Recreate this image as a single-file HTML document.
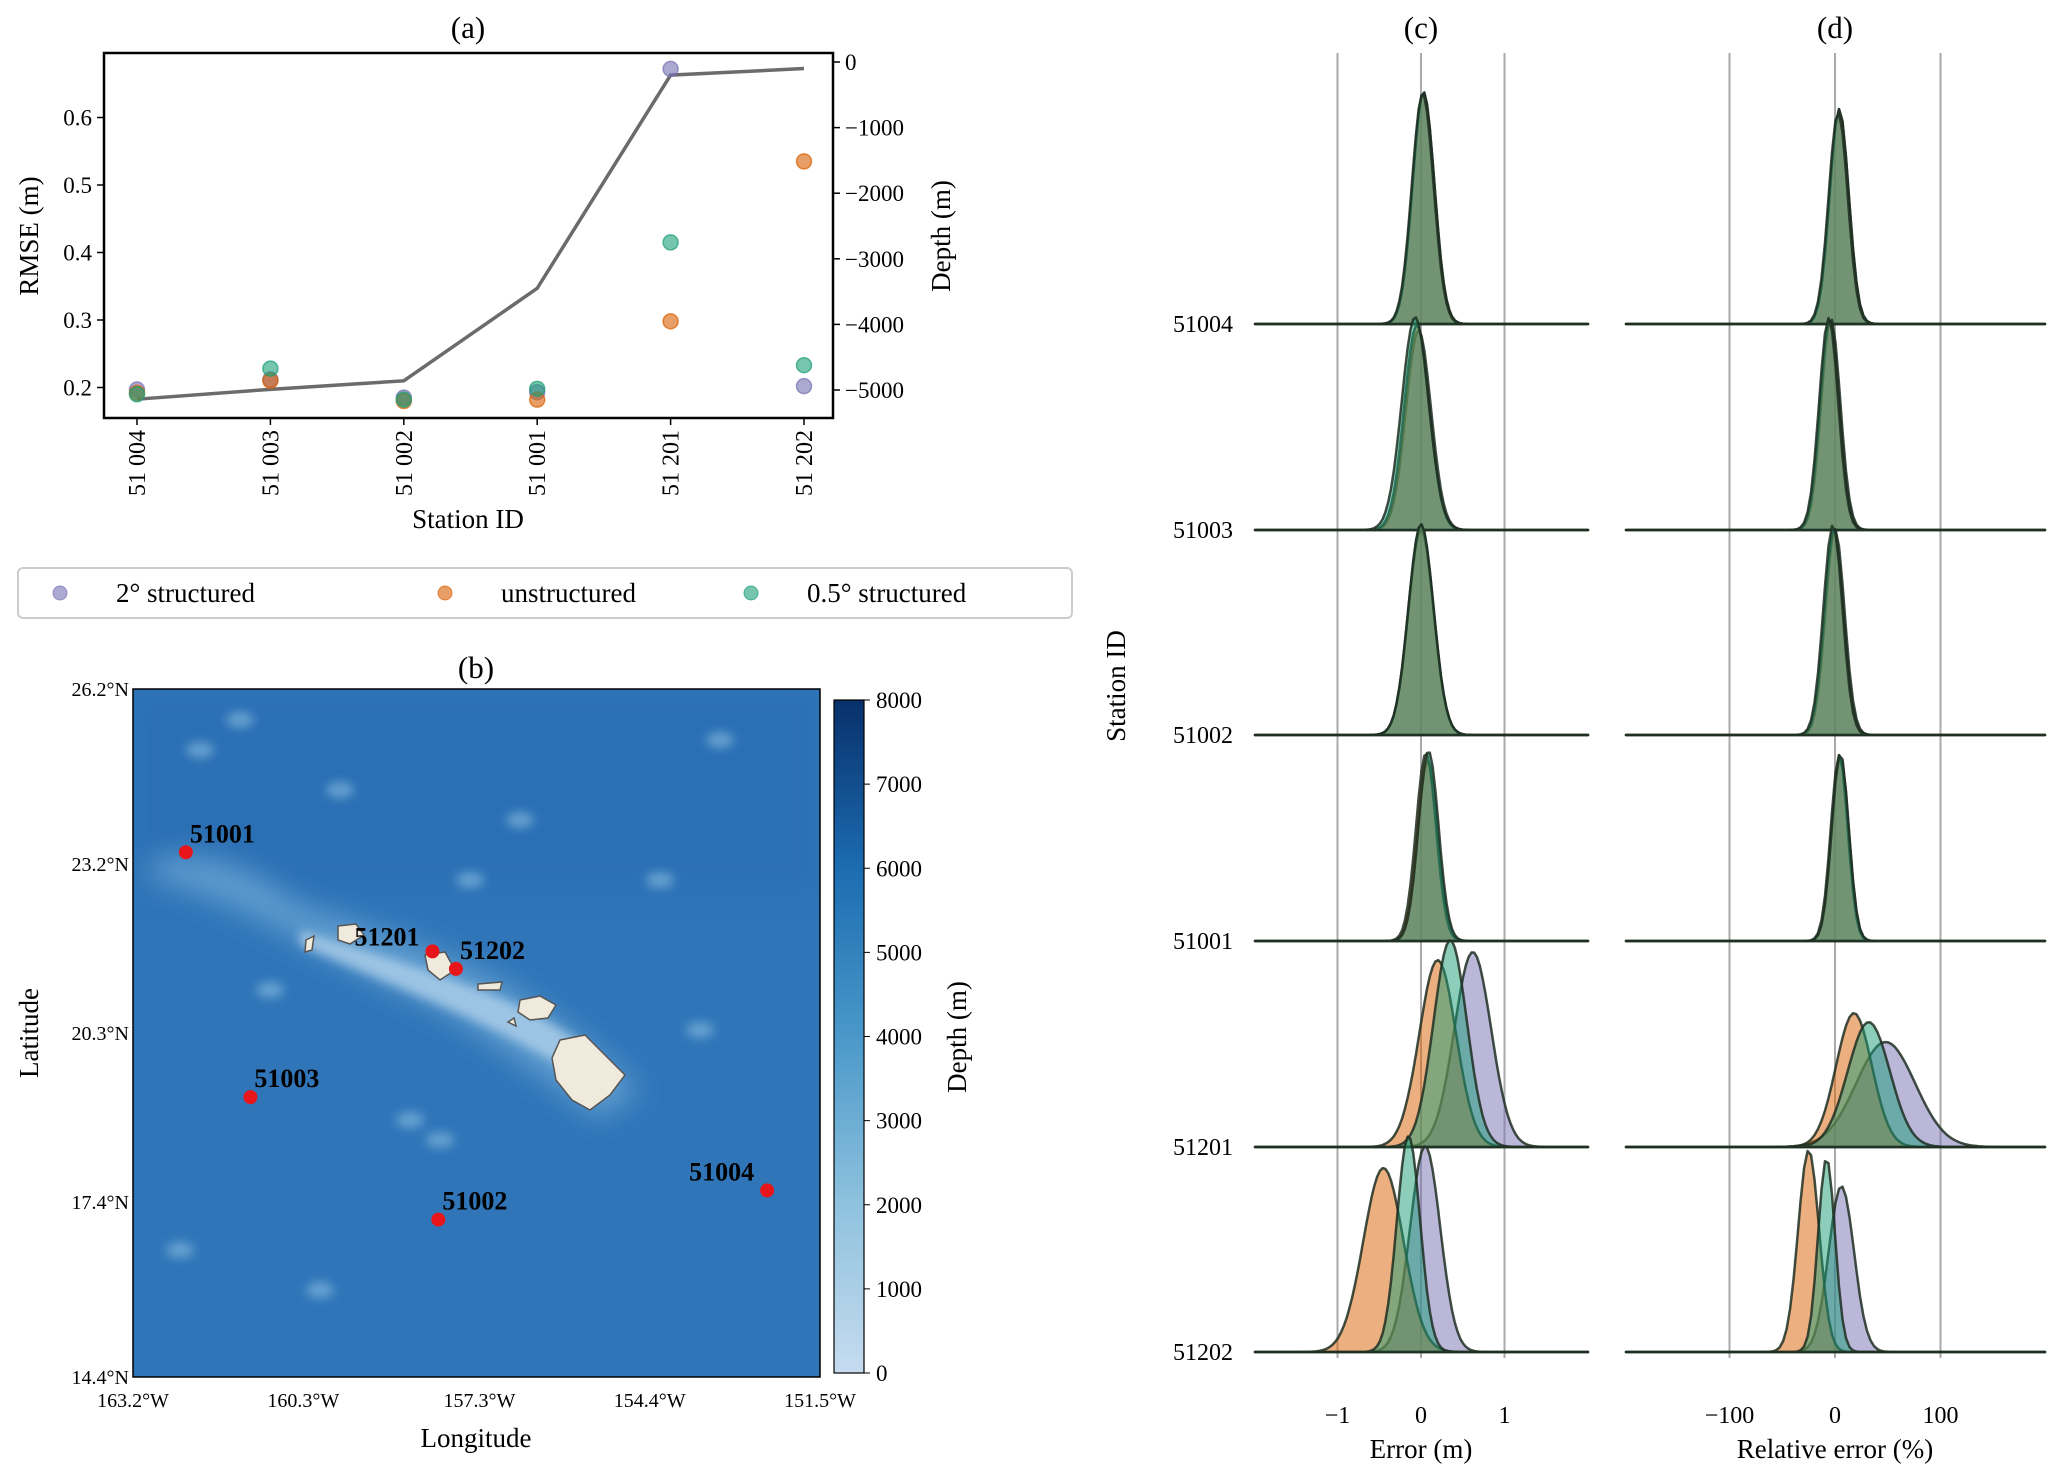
<!DOCTYPE html>
<html><head><meta charset="utf-8"><style>
html,body{margin:0;padding:0;background:#fff;}
svg{display:block;font-family:"Liberation Serif",serif;}
</style></head><body>
<svg id="fig" width="2067" height="1475" viewBox="0 0 2067 1475" xmlns="http://www.w3.org/2000/svg">
<defs>
<linearGradient id="cbar" x1="0" y1="1" x2="0" y2="0">
<stop offset="0" stop-color="#c6dbef"/><stop offset="0.25" stop-color="#8fc2de"/><stop offset="0.5" stop-color="#4a98c9"/><stop offset="0.75" stop-color="#1c6cb1"/><stop offset="1" stop-color="#08306b"/>
</linearGradient>
<filter id="blur" x="-50%" y="-50%" width="200%" height="200%"><feGaussianBlur stdDeviation="14"/></filter>
<filter id="blur2" x="-50%" y="-50%" width="200%" height="200%"><feGaussianBlur stdDeviation="5"/></filter>
<clipPath id="mapclip"><rect x="133" y="689" width="687" height="688"/></clipPath>
</defs>
<g id="pa"></g>
<g id="pb"></g>
<g id="pc"></g>
<g id="pd"></g>
</svg>
<script>
// ---------- data ----------
const stations = ["51004","51003","51002","51001","51201","51202"];
const stationLabels = ["51 004","51 003","51 002","51 001","51 201","51 202"];
const rmse2deg = [0.197,0.212,0.185,0.193,0.672,0.202];
const rmseUnstr = [0.192,0.210,0.180,0.182,0.298,0.535];
const rmseHalf = [0.190,0.228,0.182,0.198,0.415,0.233];
const depth = [-5140,-4990,-4860,-3450,-200,-100];
const rmseTicks = [0.2,0.3,0.4,0.5,0.6];
const depthTicks = [0,-1000,-2000,-3000,-4000,-5000];
const seriesNames = ["2° structured","unstructured","0.5° structured"];
const colors = ["#7570b3","#d95f02","#1b9e77"];
const errMean2 = [0.03,-0.03,0.0,0.08,0.62,0.05];
const errMeanU = [0.03,-0.05,0.0,0.06,0.20,-0.45];
const errMeanH = [0.02,-0.07,0.0,0.09,0.35,-0.15];
const errSd2 = [0.13,0.15,0.15,0.12,0.22,0.18];
const errSdU = [0.13,0.15,0.15,0.12,0.22,0.24];
const errSdH = [0.13,0.16,0.15,0.12,0.20,0.14];
const errPk2 = [232,200,205,180,195,206];
const errPkU = [232,205,210,188,187,184];
const errPkH = [230,213,211,190,207,216];
const relMean2 = [4,-4,0,5,48,6];
const relMeanU = [4,-5,-1,4,18,-25];
const relMeanH = [3,-6,-2,5,32,-8];
const relSd2 = [9,9,9,8,28,12];
const relSdU = [9,9,9,8,17,10];
const relSdH = [9,9,9,8,20,8];
const relPk2 = [215,212,206,186,105,166];
const relPkU = [215,212,206,186,134,202];
const relPkH = [212,212,210,188,125,194];
const errTicks = [-1,0,1];
const relTicks = [-100,0,100];
const cbarTicks = [0,1000,2000,3000,4000,5000,6000,7000,8000];
const lonTicks = ["163.2°W","160.3°W","157.3°W","154.4°W","151.5°W"];
const lonVals = [-163.2,-160.3,-157.3,-154.4,-151.5];
const latTicks = ["26.2°N","23.2°N","20.3°N","17.4°N","14.4°N"];
const latVals = [26.2,23.2,20.3,17.4,14.4];
const stnLon = [-152.4,-161.2,-158.0,-162.3,-158.1,-157.7];
const stnLat = [17.6,19.2,17.1,23.4,21.7,21.4];

const NS="http://www.w3.org/2000/svg";
function mk(parent,tag,attrs,text){const e=document.createElementNS(NS,tag);for(const k in attrs)e.setAttribute(k,attrs[k]);if(text!==undefined)e.textContent=text;parent.appendChild(e);return e;}

// ---------- panel a ----------
const pa=document.getElementById('pa');
const aL=104,aR=833,aT=53,aB=418;
const xA=i=>137+i*133.4;
const yR=v=>387.5-(v-0.2)*675;
const yD=d=>62+(-d)*0.0656;
let t=mk(pa,'text',{x:468,y:38,'font-size':31,'text-anchor':'middle'},'(a)');

let ln=mk(pa,'polyline',{points:depth.map((d,i)=>xA(i)+','+yD(d)).join(' '),fill:'none',stroke:'#6b6b6b','stroke-width':3.5});

[rmse2deg,rmseUnstr,rmseHalf].forEach((arr,s)=>{arr.forEach((v,i)=>{
 const c=mk(pa,'circle',{cx:xA(i),cy:yR(v),r:7.5,fill:colors[s],'fill-opacity':0.6,stroke:colors[s],'stroke-opacity':0.7,'stroke-width':1.5});
 });});
let fr=mk(pa,'rect',{x:aL,y:aT,width:aR-aL,height:aB-aT,fill:'none',stroke:'#000','stroke-width':2.5});

rmseTicks.forEach(v=>{mk(pa,'line',{x1:aL-7,x2:aL,y1:yR(v),y2:yR(v),stroke:'#000','stroke-width':1.5});
 const e=mk(pa,'text',{x:aL-12,y:yR(v)+8,'font-size':23,'text-anchor':'end'},v.toFixed(1));
 });
depthTicks.forEach(d=>{mk(pa,'line',{x1:aR,x2:aR+7,y1:yD(d),y2:yD(d),stroke:'#000','stroke-width':1.5});
 const e=mk(pa,'text',{x:aR+12,y:yD(d)+8,'font-size':23},d===0?'0':'\u2212'+Math.abs(d));
 });
stationLabels.forEach((s,i)=>{mk(pa,'line',{x1:xA(i),x2:xA(i),y1:aB,y2:aB+7,stroke:'#000','stroke-width':1.5});
 const e=mk(pa,'text',{x:0,y:0,'font-size':24,'text-anchor':'end',transform:`translate(${xA(i)+8},${aB+12}) rotate(-90)`},s);
 });
t=mk(pa,'text',{x:468,y:528,'font-size':27,'text-anchor':'middle'},'Station ID');

t=mk(pa,'text',{x:0,y:0,'font-size':27,'text-anchor':'middle',transform:'translate(38,236) rotate(-90)'},'RMSE (m)');

t=mk(pa,'text',{x:0,y:0,'font-size':27,'text-anchor':'middle',transform:'translate(950,236) rotate(-90)'},'Depth (m)');

const lg=mk(pa,'g',{});
mk(lg,'rect',{x:18,y:568,width:1054,height:50,rx:5,fill:'#fff',stroke:'#ccc','stroke-width':2});
const lgx=[60,445,751];
seriesNames.forEach((n,s)=>{const g=mk(lg,'g',{});
 mk(g,'circle',{cx:lgx[s],cy:593,r:7,fill:colors[s],'fill-opacity':0.6,stroke:colors[s],'stroke-opacity':0.7});
 mk(g,'text',{x:lgx[s]+56,y:602,'font-size':27},n);});

// ---------- panel b map ----------
const pb=document.getElementById('pb');
const mL=133,mR=820,mT=689,mB=1377;
const xM=lon=>mL+(lon+163.2)/11.7*(mR-mL);
const yM=lat=>mT+(26.2-lat)/11.8*(mB-mT);
t=mk(pb,'text',{x:476,y:678,'font-size':31,'text-anchor':'middle'},'(b)');

const mg=mk(pb,'g',{'clip-path':'url(#mapclip)'});
mk(mg,'rect',{x:mL,y:mT,width:mR-mL,height:mB-mT,fill:'#2f75b8'});
mk(mg,'rect',{x:mL,y:mT,width:mR-mL,height:200,fill:'#2a6db2',opacity:0.6,filter:'url(#blur)'});
mk(mg,'path',{d:'M150 860 Q220 840 300 905 Q420 940 500 980 Q580 1030 640 1090 L600 1120 Q520 1060 440 1010 Q350 970 280 930 Q200 890 150 880 Z',fill:'#6aa6d4',opacity:0.8,filter:'url(#blur)'});
mk(mg,'path',{d:'M300 930 Q400 960 480 990 Q560 1020 600 1060 L585 1080 Q520 1040 440 1005 Q370 975 300 945 Z',fill:'#b9d7ee',opacity:0.7,filter:'url(#blur2)'});
[[200,750],[240,720],[520,820],[470,880],[720,740],[660,880],[320,1290],[180,1250],[410,1120],[440,1140],[700,1030],[270,990],[340,790]].forEach(p=>mk(mg,'ellipse',{cx:p[0],cy:p[1],rx:14,ry:8,fill:'#8cc0e2',opacity:0.6,filter:'url(#blur2)'}));
const isl=mk(mg,'g',{fill:'#efeadb',stroke:'#555','stroke-width':1.5});

mk(isl,'path',{d:'M560 1040 L585 1035 L605 1055 L625 1075 L610 1095 L590 1110 L572 1100 L556 1080 L552 1058 Z'});
mk(isl,'path',{d:'M520 1000 L540 996 L556 1005 L548 1018 L530 1020 L518 1012 Z'});
mk(isl,'path',{d:'M478 984 L502 982 L500 990 L478 990 Z'});
mk(isl,'path',{d:'M425 955 L445 952 L455 970 L440 980 L428 970 Z'});
mk(isl,'path',{d:'M338 926 L356 924 L364 935 L350 944 L338 940 Z'});
mk(isl,'path',{d:'M306 940 L314 936 L312 950 L305 952 Z'});
mk(isl,'path',{d:'M508 1022 L514 1018 L516 1026 Z'});
mk(pb,'rect',{x:mL,y:mT,width:mR-mL,height:mB-mT,fill:'none',stroke:'#000','stroke-width':1.5});
lonTicks.forEach((s,i)=>{const e=mk(pb,'text',{x:xM(lonVals[i]),y:mB+30,'font-size':20,'text-anchor':'middle'},s);
 });
latTicks.forEach((s,i)=>{const e=mk(pb,'text',{x:mL-4,y:yM(latVals[i])+7,'font-size':20,'text-anchor':'end'},s);
 });
t=mk(pb,'text',{x:476,y:1447,'font-size':27,'text-anchor':'middle'},'Longitude');

t=mk(pb,'text',{x:0,y:0,'font-size':27,'text-anchor':'middle',transform:'translate(38,1033) rotate(-90)'},'Latitude');

stations.forEach((s,i)=>{const g=mk(pb,'g',{});
 const x=xM(stnLon[i]),y=yM(stnLat[i]);
 mk(g,'circle',{cx:x,cy:y,r:7,fill:'#e8161b'});
 const off=s==='51004'?[-78,-10]:(s==='51201'?[-78,-6]:[4,-10]);
 mk(g,'text',{x:x+off[0],y:y+off[1],'font-size':26,'font-weight':'bold'},s);});
const cb=mk(pb,'g',{});
const cT=700,cBt=1373;
mk(cb,'rect',{x:834,y:cT,width:30,height:cBt-cT,fill:'url(#cbar)',stroke:'#000','stroke-width':1.2});
cbarTicks.forEach(v=>{const y=cBt-v/8000*(cBt-cT);mk(cb,'line',{x1:864,x2:870,y1:y,y2:y,stroke:'#000'});
 const e=mk(cb,'text',{x:876,y:y+8,'font-size':23},String(v));});
t=mk(pb,'text',{x:0,y:0,'font-size':27,'text-anchor':'middle',transform:'translate(966,1037) rotate(-90)'},'Depth (m)');


// ---------- ridges ----------
const baseY=[324,530,735,941,1147,1352];
function ridge(root,title,x0,x1,scale,zeroX,ticks,tickFmt,xlabel,means,sds,pks){
 const e=mk(root,'text',{x:zeroX,y:38,'font-size':31,'text-anchor':'middle'},title);
 
 const xv=v=>zeroX+v*scale;
 ticks.forEach(v=>{const g=mk(root,'line',{x1:xv(v),x2:xv(v),y1:53,y2:1358,stroke:'#aaa','stroke-width':2});
  
  const l=mk(root,'text',{x:xv(v),y:1423,'font-size':24,'text-anchor':'middle'},tickFmt(v));
  });
 const xl=mk(root,'text',{x:zeroX,y:1458,'font-size':27,'text-anchor':'middle'},xlabel);
 
 stations.forEach((s,i)=>{
  const b=baseY[i];
  const bl=mk(root,'line',{x1:x0,x2:x1,y1:b,y2:b,stroke:'#888','stroke-width':2});
  
  [0,1,2].forEach(k=>{
   const m=means[k][i],sd=sds[k][i],pk=pks[k][i];
   let pts=[];const n=120;
   for(let j=0;j<=n;j++){const px=x0+(x1-x0)*j/n;const v=(px-zeroX)/scale;const z=(v-m)/sd;pts.push(px.toFixed(1)+','+(b-pk*Math.exp(-0.5*z*z)).toFixed(1));}
   const p=mk(root,'path',{d:'M'+x0+','+b+' L'+pts.join(' L')+' L'+x1+','+b+' Z',fill:colors[k],'fill-opacity':0.5,stroke:'#1f2f22','stroke-opacity':0.85,'stroke-width':2.5,'stroke-linejoin':'round'});
   
   
  });
 });
}
const pc=document.getElementById('pc'),pd=document.getElementById('pd');
ridge(pc,'(c)',1255,1588,83.5,1421,errTicks,v=>v<0?'\u2212'+Math.abs(v):String(v),'Error (m)',
 [errMean2,errMeanU,errMeanH],[errSd2,errSdU,errSdH],[errPk2,errPkU,errPkH]);
ridge(pd,'(d)',1626,2045,1.055,1835,relTicks,v=>v<0?'\u2212'+Math.abs(v):String(v),'Relative error (%)',
 [relMean2,relMeanU,relMeanH],[relSd2,relSdU,relSdH],[relPk2,relPkU,relPkH]);
stations.forEach((s,i)=>{const e=mk(pc,'text',{x:1233,y:baseY[i]+8,'font-size':24,'text-anchor':'end'},s);
 });
t=mk(pc,'text',{x:0,y:0,'font-size':27,'text-anchor':'middle',transform:'translate(1125,686) rotate(-90)'},'Station ID');

</script>
</body></html>
